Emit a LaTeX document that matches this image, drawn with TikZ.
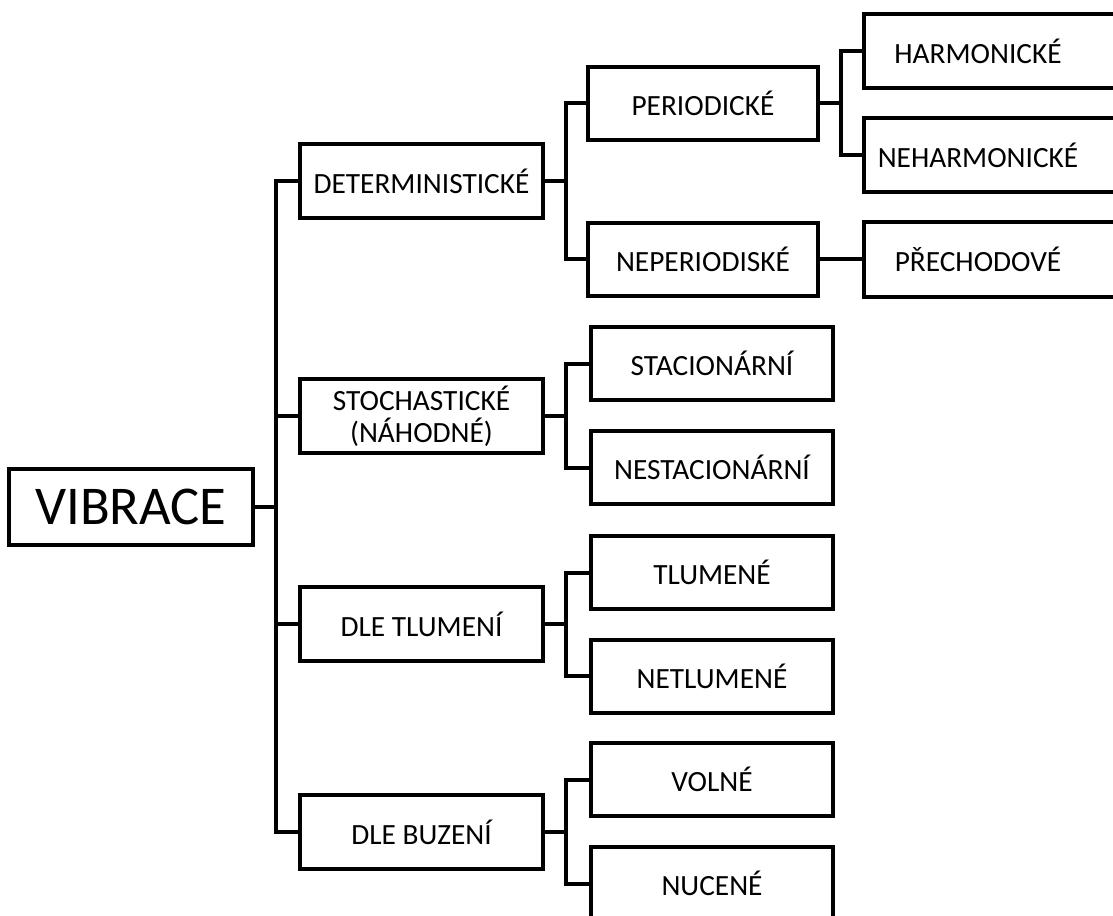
\documentclass[tikz,border=0pt]{standalone}
\usepackage{fontspec}
\setmainfont{Carlito}
\begin{document}
\begin{tikzpicture}[x=0.75pt,y=-0.75pt,
  line width=3pt, line join=miter,
  box/.style={draw, line width=3pt, rectangle, inner sep=0pt, align=center,
    font=\fontsize{22}{24}\selectfont},
  lone/.style={box, minimum width=182.25pt, minimum height=55.5pt},
  ltwoa/.style={box, minimum width=172.5pt, minimum height=54.75pt},
  ltwob/.style={box, minimum width=181.5pt, minimum height=54.75pt},
  lthree/.style={box, minimum width=199.5pt, minimum height=55.5pt},
  conn/.style={draw, line width=3pt}
]
\useasboundingbox (0,0) rectangle (1113,916);
\clip (0,0) rectangle (1113,916);
\fill[white] (0,0) rectangle (1113,916);

% root
\node[box, minimum width=183pt, minimum height=57pt,
      font=\fontsize{41}{44}\selectfont] (vib) at (131,507) {VIBRACE};

% level 1
\node[lone] (det) at (421.5,181) {DETERMINISTICKÉ};
\node[lone] (sto) at (421.5,416) {STOCHASTICKÉ\\(NÁHODNÉ)};
\node[lone] (tlu) at (421.5,624) {DLE TLUMENÍ};
\node[lone] (buz) at (421.5,832) {DLE BUZENÍ};

% level 2
\node[ltwoa] (per) at (703,103.5) {PERIODICKÉ};
\node[ltwoa] (nep) at (703,259.5) {NEPERIODISKÉ};
\node[ltwob] (sta) at (712,363.5) {STACIONÁRNÍ};
\node[ltwob] (nes) at (712,467.5) {NESTACIONÁRNÍ};
\node[ltwob] (tle) at (712,572.5) {TLUMENÉ};
\node[ltwob] (ntl) at (712,676) {NETLUMENÉ};
\node[ltwob] (vol) at (712,779.5) {VOLNÉ};
\node[ltwob] (nuc) at (712,883.5) {NUCENÉ};

% level 3
\node[lthree, label={[font=\fontsize{22}{24}\selectfont, xshift=-14.25pt]center:HARMONICKÉ}] (har) at (997,51) {};
\node[lthree, label={[font=\fontsize{22}{24}\selectfont, xshift=-14.25pt]center:NEHARMONICKÉ}] (neh) at (997,155.5) {};
\node[lthree, label={[font=\fontsize{22}{24}\selectfont, xshift=-14.25pt]center:PŘECHODOVÉ}] (pre) at (997,259.5) {};

% junctions
\coordinate (j0) at (276,507);
\coordinate (jd) at (566,181);
\coordinate (js) at (566,416);
\coordinate (jt) at (566,624);
\coordinate (jb) at (566,832);
\coordinate (jp) at (841,103.5);

% trunk
\draw[conn] (vib.east) -- (j0);
\draw[conn] (det.west) -| (j0) |- (buz.west);
\draw[conn] (sto.west) -- (sto.west -| j0);
\draw[conn] (tlu.west) -- (tlu.west -| j0);

% level 2 connectors
\draw[conn] (det.east) -- (jd);
\draw[conn] (per.west) -| (jd) |- (nep.west);
\draw[conn] (sto.east) -- (js);
\draw[conn] (sta.west) -| (js) |- (nes.west);
\draw[conn] (tlu.east) -- (jt);
\draw[conn] (tle.west) -| (jt) |- (ntl.west);
\draw[conn] (buz.east) -- (jb);
\draw[conn] (vol.west) -| (jb) |- (nuc.west);

% level 3 connectors
\draw[conn] (per.east) -- (jp);
\draw[conn] (har.west) -| (jp) |- (neh.west);
\draw[conn] (nep.east) -- (pre.west);
\end{tikzpicture}
\end{document}
